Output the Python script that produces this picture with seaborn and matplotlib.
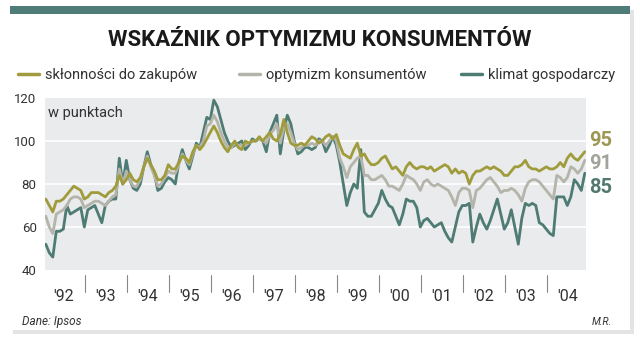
import numpy as np
import pandas as pd
import seaborn as sns
import matplotlib
matplotlib.use("Agg")
import matplotlib.pyplot as plt
from matplotlib.patches import Rectangle
from matplotlib.lines import Line2D

# ---------------- data (monthly, Jan 1992 - Nov 2004) ----------------
series_names = ["skłonności do zakupów", "optymizm konsumentów", "klimat gospodarczy"]

sklonnosci = [
    73, 70, 67, 72, 72, 73, 75, 77, 79, 78, 77, 73,
    74, 76, 76, 76, 75, 74, 76, 77, 79, 84, 80, 82,
    85, 82, 81, 83, 88, 92, 89, 86, 82, 82, 84, 89,
    87, 87, 90, 93, 92, 90, 95, 98, 96, 98, 101, 104,
    107, 104, 100, 97, 95, 98, 100, 97, 96, 100, 99, 100,
    100, 102, 100, 102, 104, 101, 100, 103, 110, 104, 99, 98,
    98, 99, 98, 100, 102, 101, 99, 100, 102, 103, 101, 103,
    98, 94, 93, 92, 96, 99, 93, 94, 91, 89, 89, 90,
    92, 93, 90, 87, 88, 86, 84, 88, 90, 88, 87, 88,
    88, 87, 88, 86, 87, 88, 89, 88, 85, 87, 85, 86,
    85, 80, 84, 86, 86, 87, 88, 87, 88, 87, 86, 84,
    84, 86, 88, 88, 89, 91, 88, 87, 87, 86, 87, 88,
    87, 87, 88, 90, 88, 92, 94, 92, 91, 93, 95,
]

optymizm = [
    65, 60, 57, 66, 67, 68, 70, 73, 74, 74, 73, 69,
    70, 71, 72, 72, 71, 70, 72, 74, 75, 87, 80, 86,
    82, 79, 79, 82, 88, 93, 88, 84, 79, 80, 83, 86,
    85, 85, 89, 94, 91, 89, 94, 98, 97, 100, 107, 108,
    112, 109, 104, 100, 97, 97, 99, 98, 98, 98, 99, 100,
    100, 101, 100, 99, 103, 105, 108, 99, 106, 108, 104, 99,
    96, 97, 98, 98, 99, 98, 100, 100, 98, 100, 102, 100,
    92, 88, 83, 88, 90, 92, 93, 84, 84, 82, 82, 83,
    84, 82, 79, 79, 78, 77, 80, 84, 83, 82, 80, 77,
    81, 82, 80, 79, 80, 79, 78, 77, 74, 70, 76, 78,
    78, 77, 69, 77, 78, 80, 82, 83, 81, 79, 76, 77,
    77, 78, 77, 75, 72, 78, 81, 82, 82, 81, 79, 77,
    75, 73, 84, 83, 81, 83, 88, 87, 85, 87, 91,
]

klimat = [
    52, 48, 46, 58, 58, 59, 70, 66, 67, 68, 69, 60,
    68, 69, 70, 66, 62, 70, 72, 73, 73, 92, 80, 91,
    82, 78, 77, 80, 88, 95, 89, 85, 77, 78, 81, 83,
    82, 80, 90, 96, 91, 87, 93, 99, 97, 104, 111, 110,
    119, 116, 110, 104, 100, 97, 98, 99, 100, 96, 98, 101,
    100, 101, 100, 95, 104, 108, 112, 94, 105, 112, 108, 100,
    94, 95, 97, 97, 96, 97, 101, 100, 95, 98, 102, 98,
    90, 80, 70, 76, 80, 78, 96, 67, 65, 65, 68, 71,
    77, 73, 70, 69, 65, 61, 66, 73, 72, 72, 69, 60,
    63, 64, 62, 60, 61, 62, 58, 55, 53, 60, 67, 70,
    70, 71, 53, 60, 66, 62, 59, 63, 68, 73, 66, 59,
    62, 68, 60, 52, 64, 71, 70, 71, 70, 62, 61, 59,
    57, 56, 74, 74, 74, 70, 74, 82, 80, 77, 85,
]

years = list(range(1992, 2005))
year_labels = ["'92", "'93", "'94", "'95", "'96", "'97", "'98", "'99",
               "'00", "'01", "'02", "'03", "'04"]
y_ticks = [40, 60, 80, 100, 120]
end_labels = ["95", "91", "85"]

# ---------------- styling ----------------
c_yellow = "#a09c3c"
c_gray = "#b4b4aa"
c_green = "#4e7b73"
palette = {series_names[0]: c_yellow, series_names[1]: c_gray, series_names[2]: c_green}
end_colors = ["#9c9852", "#a3a39c", "#52786f"]

sns.set_style("white")
plt.rcParams["font.family"] = ["Roboto", "DejaVu Sans"]

n = len(klimat)
t = 1992 + (np.arange(n) + 0.8) / 12.0
df = pd.DataFrame({
    "t": np.concatenate([t, t, t]),
    "value": klimat + optymizm + sklonnosci,
    "series": [series_names[2]] * n + [series_names[1]] * n + [series_names[0]] * n,
})

W, H = 640, 348
fig = plt.figure(figsize=(W / 100, H / 100), dpi=100)
fig.patch.set_facecolor("white")

def fx(px):
    return px / W

def fy(py):
    return 1 - py / H

# card shadow, card, top band
fig.patches.append(Rectangle((fx(13), fy(334)), fx(621), (334 - 10) / H,
                             transform=fig.transFigure, facecolor="#e4e4e4",
                             edgecolor="none", zorder=-3))
fig.patches.append(Rectangle((fx(10), fy(330)), fx(620), (330 - 6) / H,
                             transform=fig.transFigure, facecolor="white",
                             edgecolor="none", zorder=-2))
fig.patches.append(Rectangle((fx(10), fy(14)), fx(620), 8 / H,
                             transform=fig.transFigure, facecolor="#4f7c77",
                             edgecolor="none", zorder=-1))

# axes: plot area x 45..586, y 98..270
ax = fig.add_axes([fx(45), fy(270), fx(586 - 45), (270 - 98) / H])
ax.set_zorder(2)
ax.set_facecolor("#e9ebec")
sns.lineplot(data=df, x="t", y="value", hue="series",
             hue_order=[series_names[2], series_names[1], series_names[0]],
             palette=palette, linewidth=2.0, legend=False, ax=ax)
x0 = 1992 + 2 / 42
x1 = 1992 + 543 / 42
ax.set_xlim(x0, x1)
ax.set_ylim(40, 120)
for s in ax.spines.values():
    s.set_visible(False)
ax.set_yticks(y_ticks)
ax.set_yticklabels([str(v) for v in y_ticks], fontsize=9.5, color="#333333")
ax.tick_params(axis="y", length=0, pad=6)
ax.tick_params(axis="x", length=0)
ax.set_xticks([])
ax.grid(False)
for v in [60, 80, 100]:
    ax.axhline(v, color="white", lw=1.2, zorder=0.5)
ax.set_xlabel("")
ax.set_ylabel("")

# year separators and labels (below the plot area)
for yr in years[1:]:
    ax.plot([yr, yr], [-0.03, -0.13], transform=ax.get_xaxis_transform(),
            color="#888888", lw=0.8, clip_on=False)
for yr, lab in zip(years, year_labels):
    ax.text(yr + 0.5, -0.155, lab, transform=ax.get_xaxis_transform(),
            ha="center", va="center", fontsize=11.5, color="#333333")

ax.text(0.005, 0.915, "w punktach", transform=ax.transAxes, fontsize=10.5,
        color="#333333", ha="left", va="center")

# end labels
for lab, col in zip(end_labels, end_colors):
    ypos = {"95": 100.0, "91": 89.5, "85": 78.5}[lab]
    ax.text(1.006, ypos, lab, transform=ax.get_yaxis_transform(),
            fontsize=14.5, fontweight="bold", color=col, ha="left", va="center")

# title
fig.text(0.5, fy(40), "WSKAŹNIK OPTYMIZMU KONSUMENTÓW", ha="center", va="center",
         fontsize=16, fontweight="bold", color="#1a1a1a")

# legend: three entries at their own positions
leg_x = [14, 235, 457]
for nm, lx in zip(series_names, leg_x):
    lg = fig.legend([Line2D([0], [0], color=palette[nm], lw=2.5)], [nm],
                    loc="center left", bbox_to_anchor=(fx(lx), fy(75)),
                    frameon=False, fontsize=10.5, handlelength=1.4,
                    handletextpad=0.4, labelcolor="#333333",
                    borderaxespad=0, borderpad=0.3)

# footer
fig.text(fx(22), fy(322), "Dane: Ipsos", fontsize=8.5, style="italic", color="#333333",
         ha="left", va="center")
fig.text(fx(612), fy(322), "M.R.", fontsize=7.5, style="italic", color="#333333",
         ha="right", va="center")

fig.savefig("out.png", dpi=100, facecolor="white")
